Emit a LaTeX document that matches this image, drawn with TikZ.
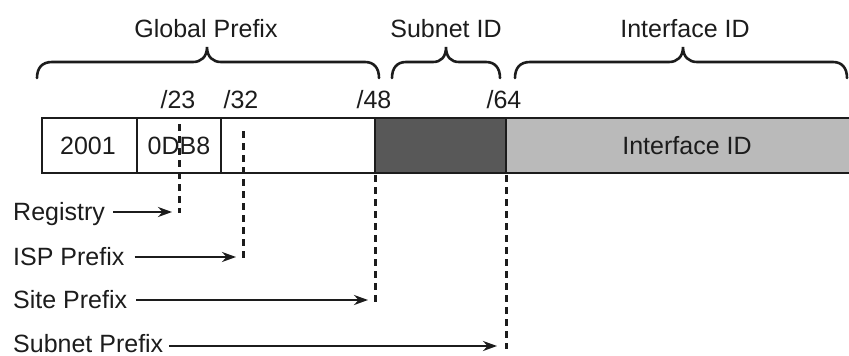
\documentclass[tikz,border=0pt]{standalone}
\usepackage{fontspec}
\setmainfont{Liberation Sans}
\usetikzlibrary{arrows.meta}
\definecolor{darkfill}{HTML}{585858}
\definecolor{lightfill}{HTML}{BABABA}
\definecolor{ink}{HTML}{1C1C1C}
\tikzset{
  lbl/.style={inner sep=0pt, anchor=base, font=\fontsize{25}{27}\selectfont, text=ink},
  side/.style={inner sep=0pt, anchor=base west, font=\fontsize{25}{27}\selectfont, text=ink},
  bracepath/.style={draw=ink, line width=2.6pt, line cap=round},
  cell/.style={draw=ink, line width=2.5pt},
  cut/.style={draw=ink, line width=3pt, dash pattern=on 7pt off 5pt},
  pointer/.style={draw=ink, line width=2.8pt, -{Stealth[length=14pt,width=10pt]}}
}
\begin{document}
\begin{tikzpicture}[x=1pt,y=-1pt]
\useasboundingbox (0,0) rectangle (849,356);
% braces
\draw[bracepath] (37,78) .. controls (37,68) and (42,62) .. (52,62) -- (193,62)
  .. controls (201,62) and (207,57) .. (207,47) .. controls (207,57) and (213,62) .. (221,62)
  -- (365,62) .. controls (374,62) and (379,68) .. (379,78);
\draw[bracepath] (392,78) .. controls (392,68) and (397,62) .. (406,62) -- (433,62)
  .. controls (441,62) and (446,57) .. (446,47) .. controls (446,57) and (451,62) .. (459,62)
  -- (486,62) .. controls (495,62) and (500,68) .. (500,78);
\draw[bracepath] (515,78) .. controls (515,68) and (520,62) .. (530,62) -- (669,62)
  .. controls (677,62) and (683,57) .. (683,47) .. controls (683,57) and (689,62) .. (697,62)
  -- (833,62) .. controls (842,62) and (847,68) .. (847,78);
% brace labels
\node[lbl] (gp) at (206,37) {Global Prefix};
\node[lbl] (sid) at (446,37) {Subnet ID};
\node[lbl] (iid) at (685,37) {Interface ID};
% bit labels
\node[lbl] (b23) at (178,108) {/23};
\node[lbl] (b32) at (241,108) {/32};
\node[lbl] (b48) at (374,108) {/48};
\node[lbl] (b64) at (504,108) {/64};
% bar
\fill[darkfill] (375,118) rectangle (506,173);
\fill[lightfill] (506,118) rectangle (852,173);
\draw[cell] (852,118) -- (42,118) -- (42,173) -- (852,173);
\draw[cell] (137,118) -- (137,173);
\draw[cell] (221,118) -- (221,173);
\draw[cell] (375,118) -- (375,173);
\draw[cell] (506,118) -- (506,173);
\node[lbl] (f2001) at (88,154) {2001};
\node[lbl] (f0db8) at (179,154) {0DB8};
\node[lbl] (fiid) at (687,154) {Interface ID};
% dashed cut lines
\coordinate (t23) at (179,124);
\coordinate (e23) at (179,213);
\coordinate (t32) at (243,131);
\coordinate (e32) at (243,258);
\coordinate (t48) at (375,175);
\coordinate (e48) at (375,303);
\coordinate (t64) at (506,175);
\coordinate (e64) at (506,349);
\draw[cut] (t23) -- (e23);
\draw[cut] (t32) -- (e32);
\draw[cut] (t48) -- (e48);
\draw[cut] (t64) -- (e64);
% side labels and pointers
\node[side] (reg) at (13,220) {Registry};
\node[side] (isp) at (13,265) {ISP Prefix};
\node[side] (site) at (13,308) {Site Prefix};
\node[side] (subn) at (13,352) {Subnet Prefix};
\coordinate (a23) at (172,212);
\coordinate (a32) at (236,257);
\coordinate (a48) at (368,300);
\coordinate (a64) at (497,346);
\draw[pointer] (reg.east |- a23) ++(8,0) -- (a23);
\draw[pointer] (isp.east |- a32) ++(10,0) -- (a32);
\draw[pointer] (site.east |- a48) ++(9,0) -- (a48);
\draw[pointer] (subn.east |- a64) ++(6,0) -- (a64);
\end{tikzpicture}
\end{document}
